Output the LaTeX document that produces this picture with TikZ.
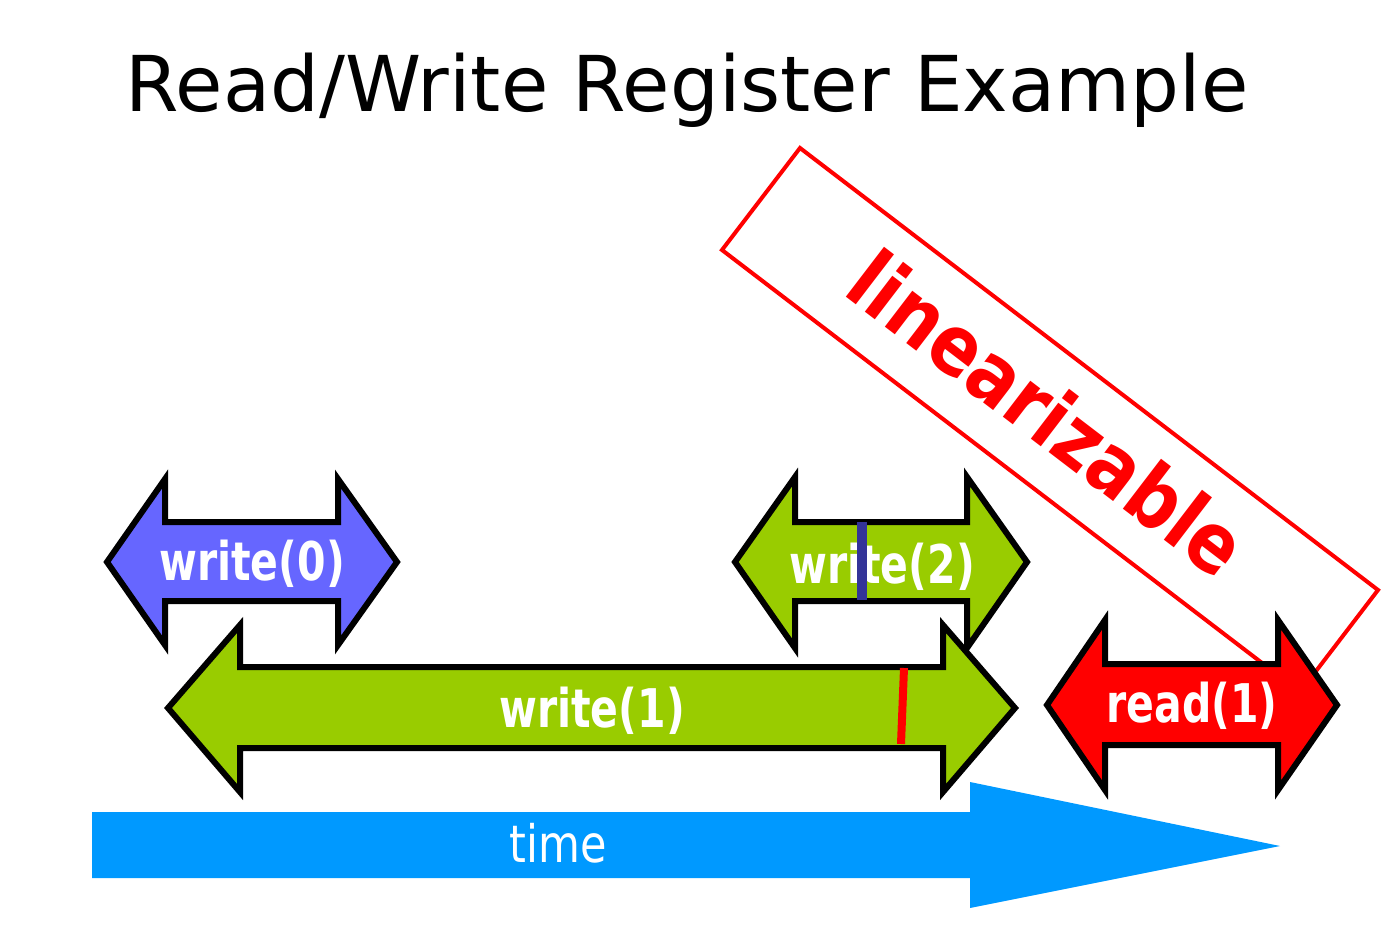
\documentclass[tikz,border=0pt]{standalone}
\usepackage{fontspec}
\setmainfont{DejaVu Sans}
\definecolor{wblue}{HTML}{6666FF}
\definecolor{wgreen}{HTML}{99CC00}
\definecolor{wred}{HTML}{FF0000}
\definecolor{tblue}{HTML}{0099FF}
\definecolor{tickblue}{HTML}{333399}
\newcommand{\tallx}[1]{\scalebox{1}[1.3]{#1}}
\tikzset{
  darrow/.style={draw=black, line width=6pt, line join=miter, miter limit=10},
  lbl/.style={text=white, font=\bfseries\fontsize{41}{41}\selectfont, inner sep=0pt, anchor=base},
}
\begin{document}
\begin{tikzpicture}[x=1pt,y=-1pt]
\useasboundingbox (0,0) rectangle (1389,939);
% title
\node[anchor=base, inner sep=0pt, font=\fontsize{77}{77}\selectfont] (title) at (687,112) {Read/Write Register Example};
% time arrow
\fill[tblue] (92,812) -- (970,812) -- (970,782) -- (1280,846) -- (970,908) -- (970,878) -- (92,878) -- cycle;
\node[anchor=base, inner sep=0pt, text=white, font=\fontsize{43}{43}\selectfont] (time) at (558,862) {\scalebox{1}[1.2]{time}};
% linearizable box
\draw[wred, line width=4pt, line join=miter] (800,148) -- (1378,590) -- (1300,692) -- (722,250) -- cycle;
\node[text=wred, font=\bfseries\fontsize{72}{72}\selectfont, rotate=-37.4, inner sep=0pt] (lin) at (1048,413) {\scalebox{1}[1.15]{linearizable}};
% write(0)
\filldraw[darrow, fill=wblue] (107,562) -- (165,479) -- (165,522) -- (338,522) -- (338,479) -- (397,562) -- (338,645) -- (338,601) -- (165,601) -- (165,645) -- cycle;
\node[lbl] (w0) at (252,580) {\tallx{write(0)}};
% write(2)
\filldraw[darrow, fill=wgreen] (735,562) -- (795,477) -- (795,522) -- (967,522) -- (967,477) -- (1027,562) -- (967,648) -- (967,601) -- (795,601) -- (795,648) -- cycle;
\node[lbl] (w2) at (882,583) {\tallx{write(2)}};
\coordinate (b1) at (862,522);
\coordinate (b2) at (862,600);
\draw[tickblue, line width=10pt] (b1) -- (b2);
% write(1)
\filldraw[darrow, fill=wgreen] (168,708) -- (240,625) -- (240,667) -- (943,667) -- (943,625) -- (1015,708) -- (943,792) -- (943,748) -- (240,748) -- (240,792) -- cycle;
\node[lbl] (w1) at (592,727) {\tallx{write(1)}};
\coordinate (r1) at (904,668);
\coordinate (r2) at (901,744);
\draw[wred, line width=8pt] (r1) -- (r2);
% read(1)
\filldraw[darrow, fill=wred] (1047,705) -- (1105,620) -- (1105,664) -- (1278,664) -- (1278,620) -- (1337,705) -- (1278,790) -- (1278,745) -- (1105,745) -- (1105,790) -- cycle;
\node[lbl] (rd) at (1192,722) {\tallx{read(1)}};
\end{tikzpicture}
\end{document}
